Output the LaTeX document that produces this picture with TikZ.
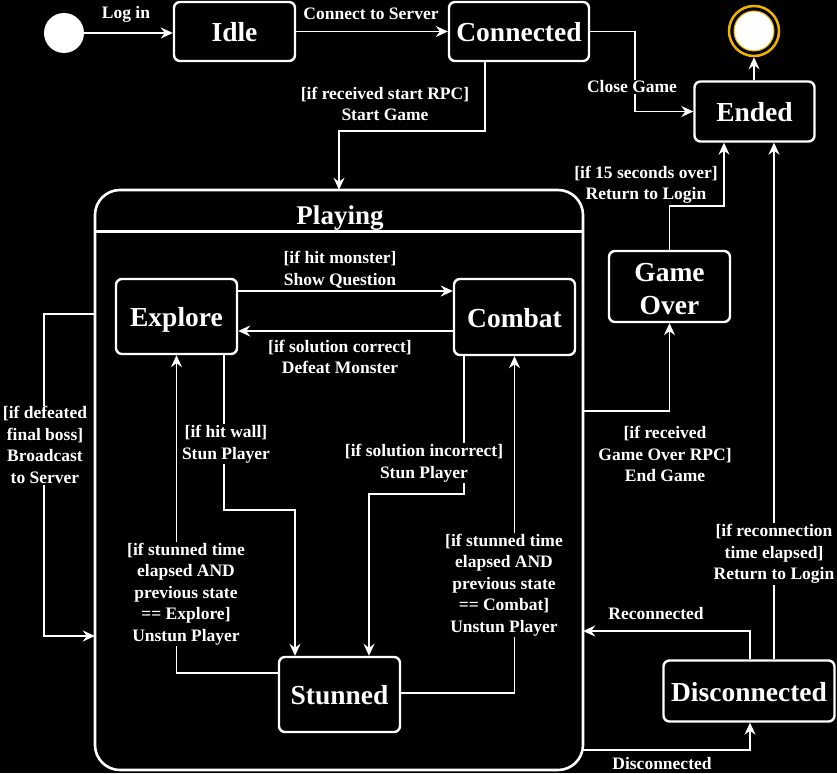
\documentclass[tikz,border=0pt]{standalone}
\usepackage{fontspec}
\setmainfont{Liberation Serif}
\usetikzlibrary{arrows.meta}
\definecolor{finyel}{RGB}{240,180,0}
\begin{document}
\begin{tikzpicture}[x=1pt,y=-1pt,
  state/.style={draw=white,line width=2.4pt,rounded corners=6pt,fill=black,text=white,
    font=\fontsize{27.5}{33}\selectfont\bfseries,align=center,inner sep=0pt,text height=20pt,text depth=0pt},
  statebox/.style={draw=white,line width=2.4pt,rounded corners=6pt,fill=black,inner sep=0pt},
  statetext/.style={text=white,font=\fontsize{27.5}{33}\selectfont\bfseries,align=center,inner sep=0pt},
  arr/.style={draw=white,line width=1.5pt,-{Stealth[length=12pt,width=11pt,inset=4pt]}},
  lbl/.style={text=white,fill=black,font=\fontsize{17.5}{21.5}\selectfont\bfseries,align=center,inner sep=1pt},
  lblfree/.style={text=white,font=\fontsize{17.5}{21.5}\selectfont\bfseries,align=center,inner sep=1pt}]
\fill[black] (0,0) rectangle (837,773);
\useasboundingbox (0,0) rectangle (837,773);
% container
\node[minimum width=488pt,minimum height=580pt,inner sep=0pt] (playing) at (339,480) {};
\draw[white,line width=2.6pt,line join=round] (339,190) -- (558,190) arc[start angle=90,end angle=0,radius=25pt]
  -- (583,745) arc[start angle=0,end angle=-90,radius=25pt] -- (120,770)
  arc[start angle=270,end angle=180,radius=25pt] -- (95,215) arc[start angle=180,end angle=90,radius=25pt] -- cycle;
\draw[white,line width=2.6pt] (95,231.5) -- (583,231.5);
\node[text=white,font=\fontsize{27}{30}\selectfont\bfseries] (ptitle) at (340,218) {Playing};
% states
\node[circle,fill=white,minimum size=40pt,inner sep=0pt] (init) at (64,33) {};
\node[state,minimum width=121pt,minimum height=59pt] (idle) at (234.5,31.5) {Idle};
\node[state,minimum width=140pt,minimum height=59pt] (conn) at (519,31.5) {Connected};
\node[circle,draw=finyel,line width=2.5pt,fill=black,minimum size=50pt,inner sep=0pt] (fin) at (754,31) {};
\node[circle,draw=finyel,line width=1pt,fill=white,minimum size=40pt,inner sep=0pt] (finin) at (754,31) {};
\node[state,minimum width=120pt,minimum height=60pt] (ended) at (754.5,111.5) {Ended};
\node[state,minimum width=121pt,minimum height=75pt] (explore) at (176.5,316.5) {Explore};
\node[state,minimum width=121pt,minimum height=76pt] (combat) at (514.5,317) {Combat};
\node[state,minimum width=121pt,minimum height=75pt] (stunned) at (339.5,694.5) {Stunned};
\node[statebox,minimum width=121pt,minimum height=71pt] (gameover) at (669.5,286.5) {};
\node[statetext] (gotext) at (669.5,289) {Game\\Over};
\node[state,minimum width=171pt,minimum height=61pt] (disc) at (749,691) {Disconnected};
% connectors
\draw[arr] (init.east) -- (init.east -| idle.west);
\draw[arr] (idle.east) -- (conn.west);
\draw[arr] (conn.east) -- ++(45,0) |- (ended.west);
\draw[arr] ([xshift=-34pt]conn.south) -- ++(0,69) -| (playing.north);
\draw[arr] (fin.south |- ended.north) -- (fin.south);
\draw[arr] ([yshift=25.5pt]explore.east) -- ([yshift=25.5pt]explore.east -| combat.west);
\draw[arr] ([yshift=-14pt]combat.west) -- ([yshift=-14pt]combat.west -| explore.east);
\draw[arr] ([xshift=47.5pt]explore.south) -- ++(0,155) -| ([xshift=-44.5pt]stunned.north);
\draw[arr] ([xshift=-50.5pt]combat.south) -- ++(0,138) -| ([xshift=29.5pt]stunned.north);
\draw[arr] ([yshift=21.5pt]stunned.west) -| (explore.south);
\draw[arr] ([yshift=1.5pt]stunned.east) -| (combat.south);
\draw[arr] ([yshift=166pt]playing.west) -- ++(-51,0) |- ([yshift=-156pt]playing.west);
\draw[arr] ([yshift=69pt]playing.east) -| (gameover.south);
\draw[arr] (gameover.north) -- ++(0,-44) -| ([xshift=-30.5pt]ended.south);
\draw[arr] ([xshift=25pt]disc.north) -- ([xshift=25pt]disc.north |- ended.south);
\draw[arr] ([xshift=1pt]disc.north) |- ([yshift=-151pt]playing.east);
\draw[arr] ([yshift=-270pt]playing.east) -| ([xshift=1pt]disc.south);
% labels
\node[lbl] (l1) at (126,14) {Log in};
\node[lbl] (l2) at (371,14) {Connect to Server};
\node[lbl] (l3) at (385,104) {[if received start RPC]\\Start Game};
\node[lbl] (l4) at (632,87) {Close Game};
\node[lbl] (l5) at (340,270) {[if hit monster]\\Show Question};
\node[lbl] (l6) at (340,357) {[if solution correct]\\Defeat Monster};
\node[lbl] (l7) at (226,444) {[if hit wall]\\Stun Player};
\node[lbl] (l8) at (424,463) {[if solution incorrect]\\Stun Player};
\node[lbl] (l9) at (186,594) {[if stunned time\\elapsed AND\\previous state\\ == Explore]\\Unstun Player};
\node[lbl] (l10) at (504,585) {[if stunned time\\elapsed AND\\previous state\\ == Combat]\\Unstun Player};
\node[lbl] (l11) at (45,445) {[if defeated\\ final boss]\\Broadcast\\ to Server};
\node[lblfree] (l12) at (646,185) {[if 15 seconds over]\\Return to Login};
\node[lbl] (l13) at (665,454) {[if received\\Game Over RPC]\\End Game};
\node[lbl] (l14) at (774,554) {[if reconnection\\time elapsed]\\Return to Login};
\node[lbl] (l15) at (656,614) {Reconnected};
\node[lbl] (l16) at (662,764) {Disconnected};
\end{tikzpicture}
\end{document}
